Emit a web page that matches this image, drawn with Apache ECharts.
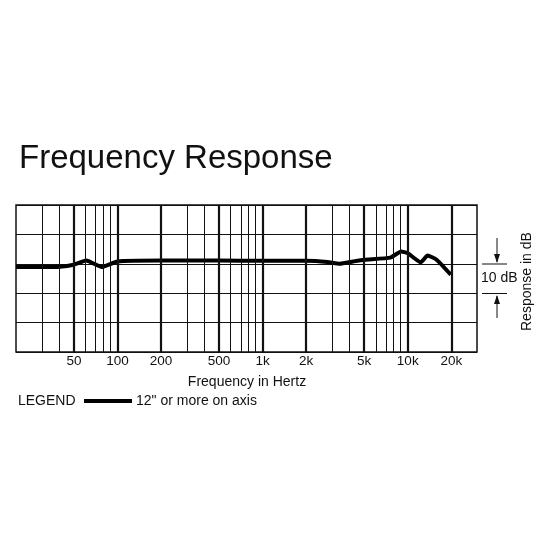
<!DOCTYPE html>
<html><head><meta charset="utf-8">
<script src="https://cdn.jsdelivr.net/npm/echarts@6/dist/echarts.min.js"></script>
<style>html,body{margin:0;background:#fff}#c{width:550px;height:550px}</style>
</head><body><div id="c"></div>
<script>
// response curve, frequency (Hz) and level (dB)
const freqs = [20, 30, 40, 50, 61, 78, 100, 200, 500, 1000, 2000, 2800, 3400, 4200, 5000, 7600, 9000, 10000, 12300, 13700, 15800, 19800];
const levels = [-1.1, -1.1, -1.0, -0.3, 1.1, -1.1, 0.8, 1.1, 1.1, 1.0, 1.0, 0.6, 0.0, 0.8, 1.4, 2.1, 4.2, 3.6, 0.5, 2.8, 1.4, -3.7];
const majorTicks = [50, 100, 200, 500, 1000, 2000, 5000, 10000, 20000];
const tickLabels = ['50', '100', '200', '500', '1k', '2k', '5k', '10k', '20k'];
const minorTicks = [30, 40, 60, 70, 80, 90, 300, 400, 600, 700, 800, 900, 3000, 4000, 6000, 7000, 8000, 9000];

const lg = Math.log10;
const chart = echarts.init(document.getElementById('c'));
const font = 'Arial, Liberation Sans, sans-serif';

const vlines = majorTicks.map((f, i) => ({
  xAxis: lg(f), lineStyle: { width: 2.2 },
  label: { show: true, position: 'start', formatter: tickLabels[i], fontSize: 13.5, color: '#111', fontFamily: font, distance: 2 }
})).concat(minorTicks.map(f => ({ xAxis: lg(f), lineStyle: { width: 1 }, label: { show: false } })));

chart.setOption({
  animation: false,
  title: { text: 'Frequency Response', left: 14, top: 137, textStyle: { fontSize: 33, fontWeight: 'normal', color: '#111', fontFamily: font } },
  grid: { left: 16, right: 73, top: 205, bottom: 198 },
  xAxis: {
    type: 'value', min: lg(20), max: lg(30000),
    axisLabel: { show: false }, axisTick: { show: false }, splitLine: { show: false },
    axisLine: { show: false }
  },
  yAxis: {
    type: 'value', min: -30, max: 20, interval: 10,
    axisLabel: { show: false }, axisTick: { show: false },
    axisLine: { show: false },
    splitLine: { lineStyle: { color: '#111', width: 1.2 } }
  },
  series: [{
    type: 'line', symbol: 'none', smooth: 0.15,
    data: freqs.map((f, i) => [lg(f), levels[i]]),
    lineStyle: { color: '#000', width: 4 },
    markLine: { silent: true, symbol: 'none', lineStyle: { color: '#111', type: 'solid' }, data: vlines }
  }],
  graphic: [
    { type: 'rect', shape: { x: 16, y: 205, width: 461, height: 147 }, style: { fill: 'none', stroke: '#111', lineWidth: 1.5 } },
    { type: 'text', x: 247, y: 375, style: { text: 'Frequency in Hertz', font: '14px ' + font, fill: '#111', textAlign: 'center' } },
    { type: 'text', x: 18, y: 394, style: { text: 'LEGEND', font: '14px ' + font, fill: '#111' } },
    { type: 'line', shape: { x1: 84, y1: 401, x2: 132, y2: 401 }, style: { stroke: '#000', lineWidth: 4 } },
    { type: 'text', x: 136, y: 394, style: { text: '12" or more on axis', font: '14px ' + font, fill: '#111' } },
    { type: 'line', shape: { x1: 482, y1: 264, x2: 507, y2: 264 }, style: { stroke: '#111', lineWidth: 1 } },
    { type: 'line', shape: { x1: 482, y1: 293.5, x2: 507, y2: 293.5 }, style: { stroke: '#111', lineWidth: 1 } },
    { type: 'line', shape: { x1: 497, y1: 238, x2: 497, y2: 262 }, style: { stroke: '#111', lineWidth: 1 } },
    { type: 'polygon', shape: { points: [[494, 254], [500, 254], [497, 263]] }, style: { fill: '#111' } },
    { type: 'line', shape: { x1: 497, y1: 296, x2: 497, y2: 318 }, style: { stroke: '#111', lineWidth: 1 } },
    { type: 'polygon', shape: { points: [[494, 304], [500, 304], [497, 295]] }, style: { fill: '#111' } },
    { type: 'text', x: 481, y: 271, style: { text: '10 dB', font: '14px ' + font, fill: '#111' } },
    { type: 'text', x: 520, y: 331, rotation: Math.PI / 2, style: { text: 'Response in dB', font: '14px ' + font, fill: '#111' } }
  ]
});
</script></body></html>
